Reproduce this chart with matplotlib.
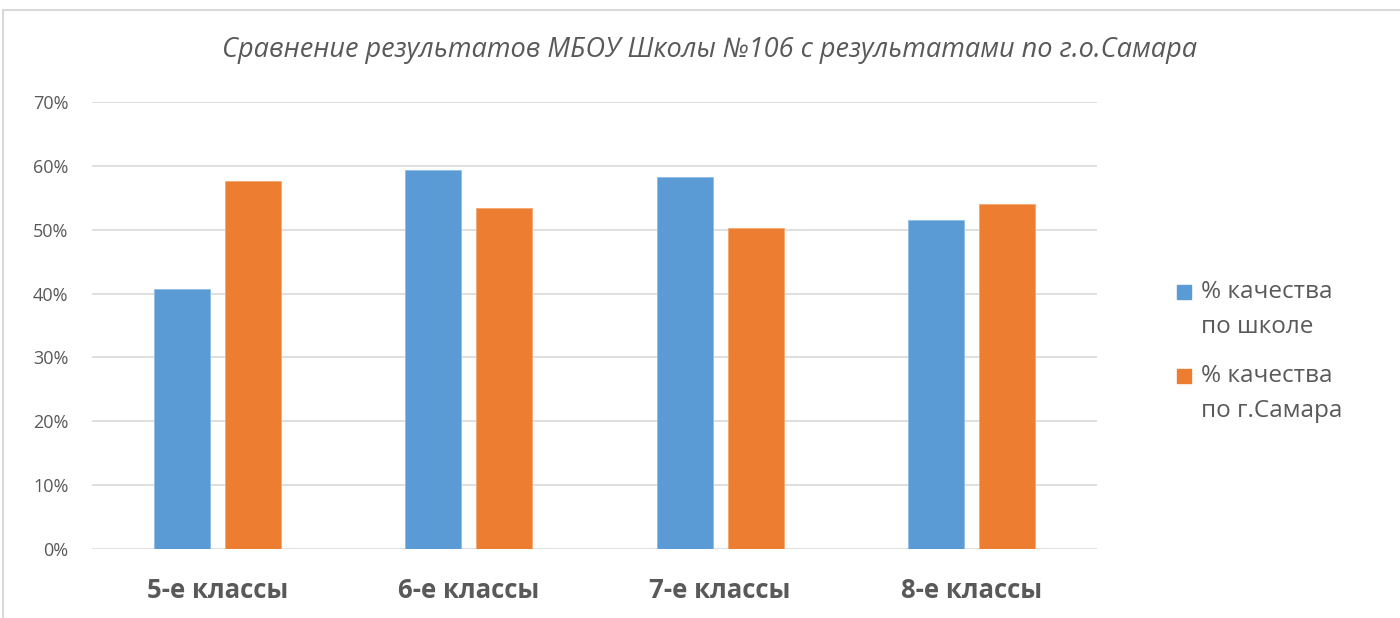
import numpy as np
import matplotlib
matplotlib.use("Agg")
import matplotlib.pyplot as plt
from matplotlib.patches import Rectangle
from matplotlib.ticker import PercentFormatter

categories = ["5-е классы", "6-е классы", "7-е классы", "8-е классы"]
school = [40.7, 59.3, 58.3, 51.5]
city = [57.7, 53.4, 50.3, 54.1]
series_names = [["% качества", "по школе"], ["% качества", "по г.Самара"]]
title = "Сравнение результатов МБОУ Школы №106 с результатами по г.о.Самара"

blue = "#5B9BD5"
orange = "#ED7D31"
grey_text = "#595959"

plt.rcParams["font.family"] = ["Open Sans", "DejaVu Sans"]

W, H = 1400, 618
fig = plt.figure(figsize=(W / 100, H / 100), dpi=100)
ax = fig.add_axes([92 / W, 1 - 549 / H, 1005 / W, 447 / H])

# chart border (light grey frame, top & left visible)
fig.patches.append(Rectangle((3 / W, -0.1), 1.2, (608 / H) + 0.1,
                             transform=fig.transFigure, fill=False,
                             edgecolor="#D9D9D9", linewidth=1.5))

x = np.arange(len(categories))
w = 0.223
gap = 0.06
ax.bar(x - (w + gap) / 2, school, w, color=blue, edgecolor="#8FBCE6", linewidth=0.6, zorder=3)
ax.bar(x + (w + gap) / 2, city, w, color=orange, edgecolor="#F4A872", linewidth=0.6, zorder=3)

ax.set_xlim(-0.5, len(categories) - 0.5)
ax.set_ylim(0, 70)
ax.set_yticks(np.arange(0, 71, 10))
ax.yaxis.set_major_formatter(PercentFormatter(decimals=0))
ax.grid(axis="y", color="#D9D9D9", linewidth=1.2, zorder=0)
for s in ax.spines.values():
    s.set_visible(False)
ax.tick_params(axis="y", length=0, labelsize=13, labelcolor=grey_text, pad=17)
ax.tick_params(axis="x", length=0, pad=20)
ax.set_xticks(x)
ax.set_xticklabels(categories, fontsize=18.5, fontweight="bold", color=grey_text)

fig.text(0.507, 1 - 50 / H, title, ha="center", va="center", fontsize=19.5,
         style="italic", color=grey_text)

# legend: square aligned to first text line
for i, (lines, col) in enumerate(zip(series_names, [blue, orange])):
    y0 = 292 + i * 84
    fig.patches.append(Rectangle((1177 / W, 1 - (y0 + 7) / H), 14 / W, 14 / H,
                                 transform=fig.transFigure, color=col))
    for j, line in enumerate(lines):
        fig.text(1201 / W, 1 - (y0 + j * 35) / H, line, ha="left", va="center",
                 fontsize=17.5, color=grey_text)

fig.savefig("out.png", dpi=100)
